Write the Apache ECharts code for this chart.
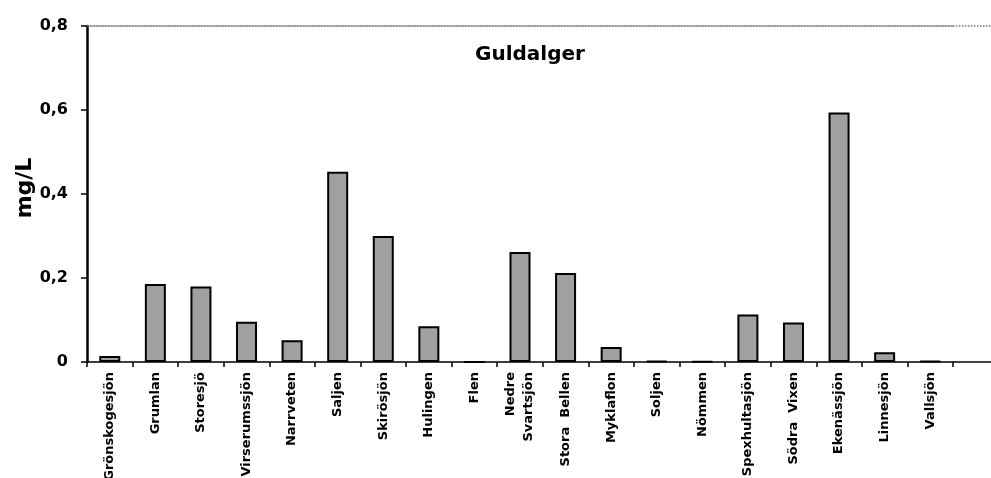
<!DOCTYPE html>
<html>
<head>
<meta charset="utf-8">
<script src="https://cdn.jsdelivr.net/npm/echarts@6/dist/echarts.min.js"></script>
<style>
  html, body { margin: 0; padding: 0; background: #fff; }
  #main { width: 991px; height: 478px; }
</style>
</head>
<body>
<div id="main"></div>
<script>
const lakes = [
  "Grönskogesjön", "Grumlan", "Storesjö", "Virserumssjön", "Narrveten",
  "Saljen", "Skirösjön", "Hulingen", "Flen", "Nedre\nSvartsjön",
  "Stora  Bellen", "Myklaflon", "Soljen", "Nömmen", "Spexhultasjön",
  "Södra  Vixen", "Ekenässjön", "Linnesjön", "Vallsjön"
];
const guldalger = [
  0.014, 0.186, 0.18, 0.096, 0.052,
  0.453, 0.30, 0.085, 0, 0.262,
  0.212, 0.036, 0.002, 0.001, 0.113,
  0.094, 0.594, 0.023, 0.002
];
const yTicks = [0, 0.2, 0.4, 0.6, 0.8];

const chart = echarts.init(document.getElementById("main"), null, { renderer: "canvas" });

const font = "'DejaVu Sans', 'Liberation Sans', Arial, sans-serif";

const option = {
  animation: false,
  backgroundColor: "#fff",
  title: {
    text: "Guldalger",
    left: 525,
    top: 40,
    textAlign: "center",
    textStyle: { fontFamily: font, fontWeight: "bold", fontSize: 20, color: "#000" }
  },
  grid: { left: 87, right: 38, top: 26, bottom: 116, containLabel: false, outerBoundsMode: "none" },
  xAxis: [
    {
      type: "category",
      data: lakes,
      boundaryGap: true,
      axisLine: { lineStyle: { color: "#000", width: 1.5 } },
      axisTick: { show: true, length: 5, inside: false, lineStyle: { color: "#000", width: 1.5 } },
      axisLabel: {
        interval: 0,
        rotate: 90,
        margin: 10,
        fontFamily: font,
        fontWeight: "bold",
        fontSize: 13,
        lineHeight: 18,
        color: "#000"
      }
    },
    {
      type: "category",
      position: "top",
      data: lakes,
      axisLine: { lineStyle: { color: "#777", width: 1.5, type: "dotted" } },
      axisTick: { show: false },
      axisLabel: { show: false }
    }
  ],
  yAxis: {
    type: "value",
    min: yTicks[0],
    max: yTicks[yTicks.length - 1],
    interval: 0.2,
    axisLine: { show: true, lineStyle: { color: "#000", width: 2.5 } },
    axisTick: { show: true, length: 6, lineStyle: { color: "#000", width: 1.5 } },
    splitLine: { show: false },
    axisLabel: {
      margin: 19,
      fontFamily: font,
      fontWeight: "bold",
      fontSize: 16,
      color: "#000",
      formatter: v => (v === 0 ? "0" : v.toFixed(1).replace(".", ","))
    }
  },
  graphic: [
    {
      type: "text",
      x: 25,
      y: 188,
      rotation: Math.PI / 2,
      style: {
        text: "mg/L",
        fontFamily: font,
        fontWeight: "bold",
        fontSize: 22,
        fill: "#000",
        align: "center",
        verticalAlign: "middle"
      }
    },
    {
      type: "line",
      shape: { x1: 953, y1: 362, x2: 991, y2: 362 },
      style: { stroke: "#000", lineWidth: 1.5 }
    },
    {
      type: "line",
      shape: { x1: 953, y1: 26, x2: 991, y2: 26 },
      style: { stroke: "#777", lineWidth: 1.5, lineDash: [1.5, 1.5] }
    }
  ],
  series: [
    {
      type: "bar",
      name: "Guldalger",
      data: guldalger,
      barWidth: 21,
      itemStyle: { color: "#a0a0a0", borderColor: "#000", borderWidth: 2 }
    }
  ]
};

chart.setOption(option);
</script>
</body>
</html>
